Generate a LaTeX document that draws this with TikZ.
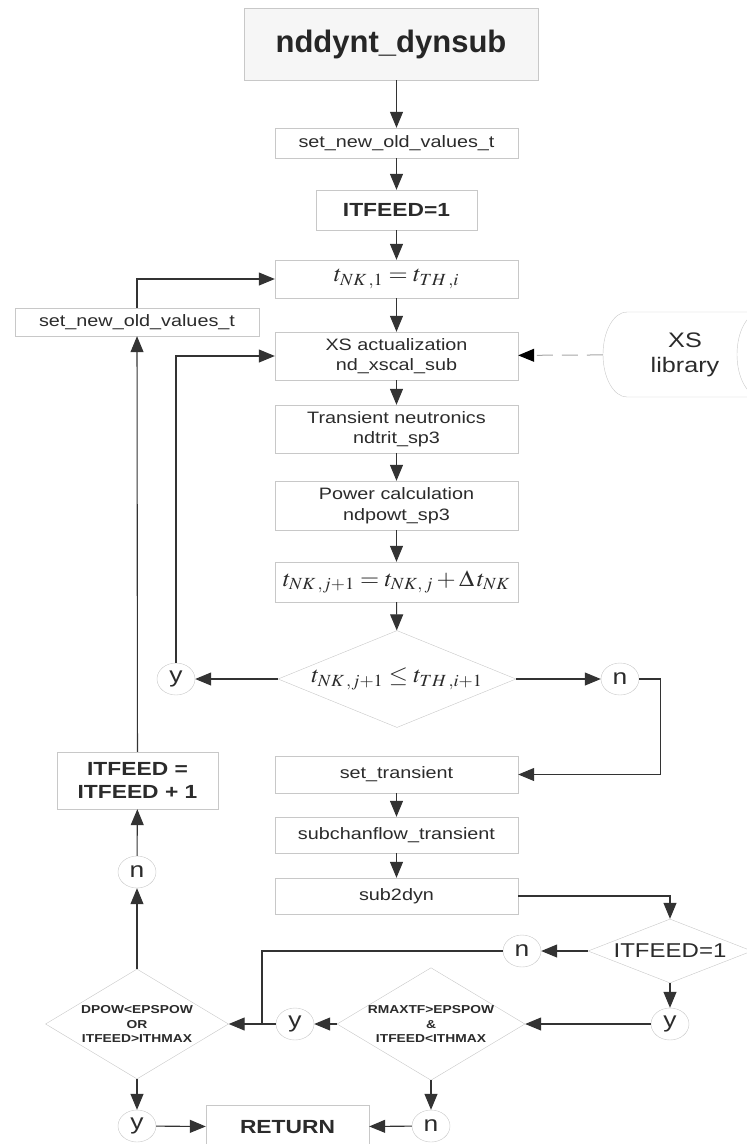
\documentclass[tikz,border=0pt]{standalone}
\usepackage{mathptmx}
\usepackage{fontspec}
\usepackage{graphicx}
\setmainfont{Liberation Sans}[FakeStretch=1.2]
\newfontfamily\titlefont{Liberation Sans}
\usetikzlibrary{arrows.meta,shapes.geometric,positioning,calc}
\definecolor{edge}{HTML}{C8C8C8}
\definecolor{ink}{HTML}{2B2B2B}
\definecolor{titlefill}{HTML}{F6F6F6}
\newcommand{\fml}[1]{{\fontsize{23}{27}\selectfont\scalebox{1.07}[1]{$#1$}}}
\tikzstyle{proc} = [draw=edge, fill=white, text=ink, align=center, inner sep=0pt, minimum width=243pt, font=\fontsize{16.5}{20.5}\selectfont]
\tikzstyle{bproc} = [proc, font=\fontsize{19}{23}\selectfont\bfseries]
\tikzstyle{decision} = [diamond, draw=edge, fill=white, text=ink, align=center, inner sep=0pt]
\tikzstyle{answer} = [ellipse, draw=edge, fill=white, text=ink, inner sep=0pt, minimum width=38pt, minimum height=32pt, font=\fontsize{22}{26}\selectfont]
\tikzstyle{flow} = [draw=black!80, line width=1.1pt, ->]
\tikzstyle{link} = [draw=black!80, line width=1.1pt]
\begin{document}
\begin{tikzpicture}[x=1pt,y=-1pt, >={Triangle[length=16pt,width=13pt]}]
\useasboundingbox (0,0) rectangle (747,1144);
\clip (0,0) rectangle (747,1144);

\node (title) [proc, fill=titlefill, minimum width=294pt, minimum height=72pt, font=\titlefont\fontsize{31}{36}\selectfont\bfseries, text=black!85] at (391,44) {nddynt\_dynsub};
\node (setnew) [proc, minimum height=30pt] at (396.5,143) {set\_new\_old\_values\_t};
\node (itfeed) [bproc, minimum width=161pt, minimum height=40pt] at (396.5,210) {ITFEED=1};
\node (tnk1) [proc, minimum height=38pt] at (396.5,279) {\fml{t_{NK\,,1}=t_{TH\,,i}}};
\node (xsact) [proc, minimum height=48pt] at (396.5,356) {XS actualization\\nd\_xscal\_sub};
\node (trans) [proc, minimum height=48pt] at (396.5,429) {Transient neutronics\\ndtrit\_sp3};
\node (power) [proc, minimum height=49pt] at (396.5,505.5) {Power calculation\\ndpowt\_sp3};
\node (tnkj) [proc, minimum height=40pt] at (396.5,582) {\fml{t_{NK\,,j+1}=t_{NK,\,j}+\Delta\,t_{NK}}};
\node (dec1) [decision, aspect=2.45, minimum width=238pt, minimum height=97pt] at (397,679) {\fml{t_{NK\,,j+1}\leq t_{TH\,,i+1}}};
\node (ydec1) [answer] at (176,679) {y};
\node (ndec1) [answer] at (620,679) {n};

\node (settrans) [proc, minimum height=37pt] at (396.5,774.5) {set\_transient};
\node (subchan) [proc, minimum height=36pt] at (396.5,835) {subchanflow\_transient};
\node (subdyn) [proc, minimum height=36pt] at (396.5,896) {sub2dyn};

\node (dec2) [decision, aspect=2.56, minimum width=164pt, minimum height=64pt, font=\fontsize{20}{24}\selectfont] at (670,951) {ITFEED=1};
\node (ndec2) [answer] at (522,951) {n};
\node (ydec2) [answer] at (670,1024) {y};
\node (dec3) [decision, aspect=1.67, minimum width=185pt, minimum height=111pt, font=\fontsize{11.5}{14.5}\selectfont\bfseries] at (431,1024) {RMAXTF>EPSPOW\\\&\\ITFEED<ITHMAX};
\node (ydec3) [answer] at (295,1024) {y};
\node (ndec3) [answer] at (431,1126) {n};
\node (dec4) [decision, aspect=1.67, minimum width=183pt, minimum height=110pt, font=\fontsize{11.5}{14.5}\selectfont\bfseries] at (137,1024) {DPOW<EPSPOW\\OR\\ITFEED>ITHMAX};
\node (ydec4) [answer] at (137,1126) {y};
\node (ndec4) [answer] at (137,872) {n};
\node (ret) [bproc, minimum width=163pt, minimum height=44pt] at (287.5,1127) {RETURN};
\coordinate (join) at (262,1024);

\node (inc) [bproc, minimum width=161pt, minimum height=57pt] at (137.5,780.5) {ITFEED =\\ITFEED + 1};
\node (setold) [proc, minimum width=244pt, minimum height=28pt] at (137,322) {set\_new\_old\_values\_t};

% XS library drum, cut by the page edge
\draw [draw=edge, fill=white] (627,312) arc[start angle=270, end angle=90, x radius=24, y radius=42.5] -- (761,397) arc[start angle=90, end angle=-90, x radius=24, y radius=42.5] -- cycle;
\draw [draw=edge] (761,354.5) ellipse [x radius=24, y radius=42.5];
\node (xslib) [text=ink, align=center, inner sep=0pt, minimum width=164pt, minimum height=85pt, font=\fontsize{21}{25}\selectfont] at (685,354.5) {XS\\library};

% main chain
\draw [flow] (title.south -| setnew) -- (setnew);
\draw [flow] (setnew) -- (itfeed);
\draw [flow] (itfeed) -- (tnk1);
\draw [flow] (tnk1) -- (xsact);
\draw [flow] (xsact) -- (trans);
\draw [flow] (trans) -- (power);
\draw [flow] (power) -- (tnkj);
\draw [flow] (tnkj) -- (dec1);
\draw [flow] (dec1) -- (ydec1);
\draw [flow] (dec1) -- (ndec1);
\draw [flow] (ydec1) |- (xsact);
\draw [flow] (ndec1.east) -- ++(21,0) |- (settrans.east);
\draw [draw=black!35, line width=1pt, dash pattern=on 16pt off 9pt, -{Triangle[length=16pt,width=13pt,color=black]}] (xslib) -- (xsact);

\draw [flow] (settrans) -- (subchan);
\draw [flow] (subchan) -- (subdyn);
\draw [flow] (subdyn.east) -| (dec2.north);
\draw [flow] (dec2) -- (ndec2);
\draw [flow] (dec2) -- (ydec2);
\draw [flow] (ydec2) -- (dec3);
\draw [flow] (dec3) -- (ydec3);
\draw [flow] (ydec3) -- (dec4);
\draw [link] (ndec2.west) -| (join);
\draw [flow] (dec3) -- (ndec3);
\draw [flow] (ndec3) -- (ret);
\draw [flow] (ydec4) -- (ret);
\draw [flow] (dec4) -- (ydec4);

% outer loop
\draw [flow] (dec4) -- (ndec4);
\draw [flow] (ndec4) -- (inc);
\draw [flow] (inc) -- (setold);
\draw [flow] (setold) |- (tnk1);
\end{tikzpicture}
\end{document}
